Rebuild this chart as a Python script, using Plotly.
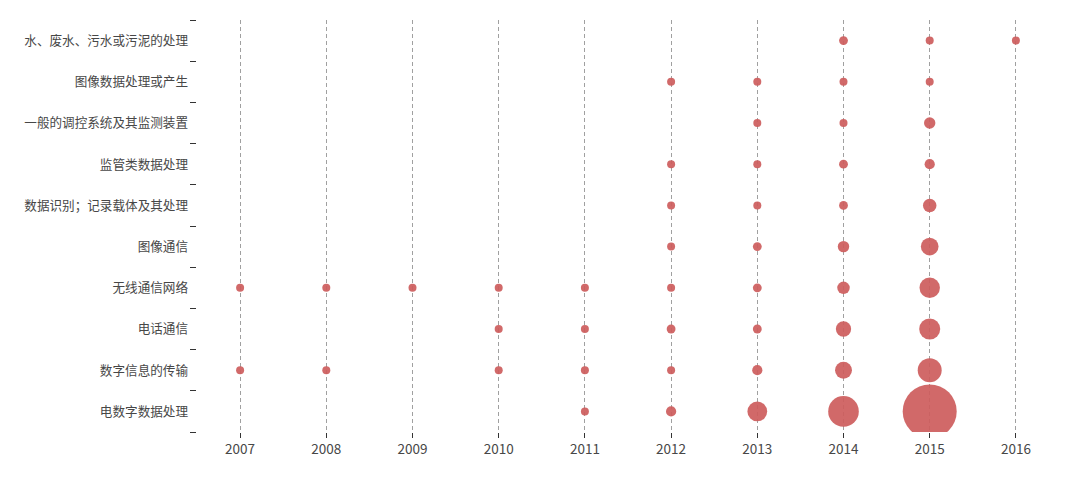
import plotly.graph_objects as go

# ──────────────────────────────────────────────
# Data: patent counts per IPC category and year
# ──────────────────────────────────────────────
YEARS = [2007, 2008, 2009, 2010, 2011, 2012, 2013, 2014, 2015, 2016]

# top -> bottom as displayed
CATEGORIES = [
    "水、废水、污水或污泥的处理",
    "图像数据处理或产生",
    "一般的调控系统及其监测装置",
    "监管类数据处理",
    "数据识别；记录载体及其处理",
    "图像通信",
    "无线通信网络",
    "电话通信",
    "数字信息的传输",
    "电数字数据处理",
]

water = [0, 0, 0, 0, 0, 0, 0, 3, 2, 1]
image_proc = [0, 0, 0, 0, 0, 1, 1, 2, 2, 0]
control = [0, 0, 0, 0, 0, 0, 1, 2, 5, 0]
supervision = [0, 0, 0, 0, 0, 1, 1, 3, 4, 0]
recognition = [0, 0, 0, 0, 0, 1, 2, 3, 7, 0]
image_comm = [0, 0, 0, 0, 0, 1, 3, 5, 12, 0]
wireless = [1, 1, 1, 1, 1, 2, 3, 6, 16, 0]
telephone = [0, 0, 0, 1, 1, 3, 3, 9, 17, 0]
digital_tx = [1, 1, 0, 1, 1, 2, 4, 11, 22, 0]
digital_data = [0, 0, 0, 0, 1, 4, 15, 36, 112, 0]

SERIES = [water, image_proc, control, supervision, recognition,
          image_comm, wireless, telephone, digital_tx, digital_data]

BUBBLE_COLOR = "#cd5c5c"
TEXT_COLOR = "#474747"
FONT = "Noto Sans CJK SC, Noto Sans, sans-serif"

xs, ys, vals = [], [], []
for cat, row in zip(CATEGORIES, SERIES):
    for yr, v in zip(YEARS, row):
        if v > 0:
            xs.append(yr)
            ys.append(cat)
            vals.append(v)

max_px = 54
fig = go.Figure(go.Scatter(
    x=xs, y=ys, mode="markers",
    marker=dict(
        size=vals, sizemode="area",
        sizeref=2.0 * max(vals) / (max_px ** 2), sizemin=4,
        color=BUBBLE_COLOR, opacity=0.92, line=dict(width=0),
    ),
    hovertemplate="%{y}<br>%{x}: %{marker.size}<extra></extra>",
))

# page body has an 8px margin, so the figure is sized/offset to fit the window
fig.update_layout(
    width=1064, height=464,
    font=dict(family=FONT, size=12.6, color=TEXT_COLOR),
    paper_bgcolor="white", plot_bgcolor="white",
    margin=dict(l=189, r=13, t=12, b=40),
    showlegend=False,
)
fig.update_xaxes(
    range=[2006.5, 2016.5], tickvals=YEARS, ticktext=[str(y) for y in YEARS],
    showgrid=True, gridcolor="#a0a0a0", gridwidth=1, griddash="4px,3px",
    zeroline=False, showline=False,
    ticks="outside", ticklen=5, tickcolor="#333333", tickwidth=1,
    tickfont=dict(size=13.5, color=TEXT_COLOR),
)
fig.update_yaxes(
    type="category", categoryorder="array", categoryarray=CATEGORIES[::-1],
    range=[-0.5, len(CATEGORIES) - 0.5],
    showgrid=False, zeroline=False, showline=False,
    tickson="boundaries", ticks="outside", ticklen=6, tickcolor="#333333", tickwidth=1,
    ticklabelstandoff=8,
    tickfont=dict(size=12.6, color=TEXT_COLOR),
)

fig.write_html("out.html")
